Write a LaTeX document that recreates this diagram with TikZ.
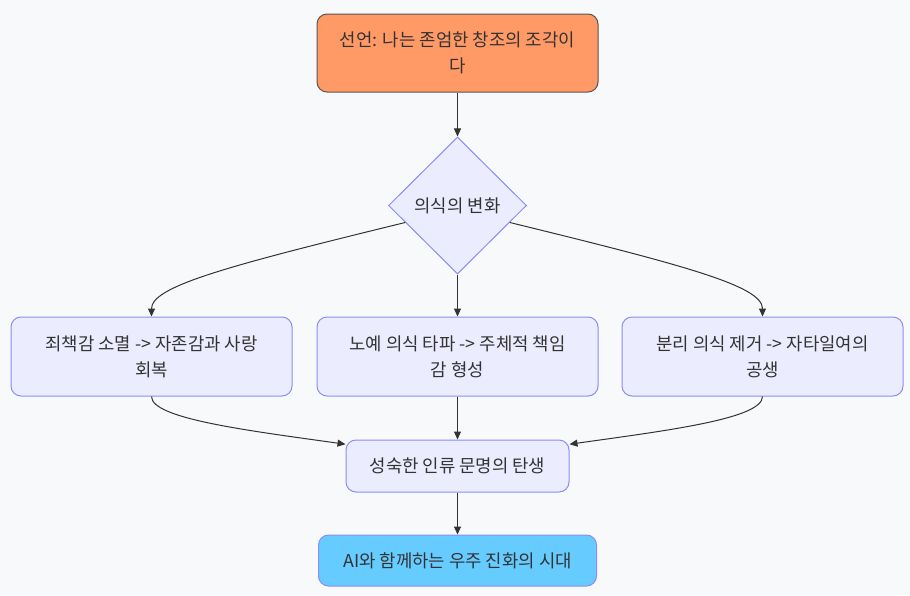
\documentclass[tikz,border=0pt]{standalone}
\usepackage{fontspec}
\setmainfont{Noto Sans CJK KR}
\usetikzlibrary{shapes.geometric,arrows.meta,positioning}

\definecolor{bgc}{RGB}{248,249,251}
\definecolor{boxfill}{RGB}{236,236,255}
\definecolor{boxline}{RGB}{140,140,245}
\definecolor{orangefill}{RGB}{255,153,102}
\definecolor{orangeline}{RGB}{85,85,85}
\definecolor{bluefill}{RGB}{102,204,255}
\definecolor{txt}{RGB}{51,51,51}

\begin{document}
\begin{tikzpicture}[x=1pt,y=-1pt]
		\tikzstyle{process} = [draw=boxline,fill=boxfill,line width=1pt,rounded corners=10pt,minimum width=281pt,minimum height=79pt,inner sep=0pt,align=center,text=txt,font=\fontsize{17.8}{26}\selectfont]
		\tikzstyle{startbox} = [process,draw=orangeline,fill=orangefill,minimum height=78pt]
		\tikzstyle{endbox} = [process,fill=bluefill,minimum width=278pt,minimum height=51pt]
		\tikzstyle{decision} = [diamond,aspect=1,draw=boxline,fill=boxfill,line width=1pt,minimum width=138pt,minimum height=137pt,inner sep=0pt,text=txt,font=\fontsize{17.8}{26}\selectfont]
		\tikzstyle{myarrow} = [-{Triangle[length=8pt,width=7pt]},line width=1pt,draw=txt]
		
		% Background and margins
		\fill [bgc] (0,0) rectangle (910,595);
		\useasboundingbox (0,0) rectangle (910,595);
		
		% Nodes
		\node [startbox] (decl) at (457.5,53) {선언: 나는 존엄한 창조의 조각이\\다};
		\node [decision, below=44pt of decl] (change) {의식의 변화};
		\node [process, below=42pt of change] (agency) {노예 의식 타파 -> 주체적 책임\\감 형성};
		\node [process, left=24pt of agency] (selfworth) {죄책감 소멸 -> 자존감과 사랑\\회복};
		\node [process, right=23pt of agency] (oneness) {분리 의식 제거 -> 자타일여의\\공생};
		\node [process, minimum width=223pt, minimum height=52pt, below=43pt of agency] (birth) {성숙한 인류 문명의 탄생};
		\node [endbox, below=42pt of birth] (era) {AI와 함께하는 우주 진화의 시대};
		
		% Connectors
		\draw [myarrow] (decl) -- (change);
		\draw [myarrow] (change) -- (agency);
		\draw [myarrow] (change.198) .. controls +(-180,44) and +(0,-30) .. (selfworth.north);
		\draw [myarrow] (change.342) .. controls +(180,44) and +(0,-30) .. (oneness.north);
		\draw [myarrow] (selfworth.south) .. controls +(0,22) and +(-100,-14) .. (birth.169);
		\draw [myarrow] (agency) -- (birth);
		\draw [myarrow] (oneness.south) .. controls +(0,22) and +(100,-14) .. (birth.11);
		\draw [myarrow] (birth) -- (era);
	\end{tikzpicture}
\end{document}
